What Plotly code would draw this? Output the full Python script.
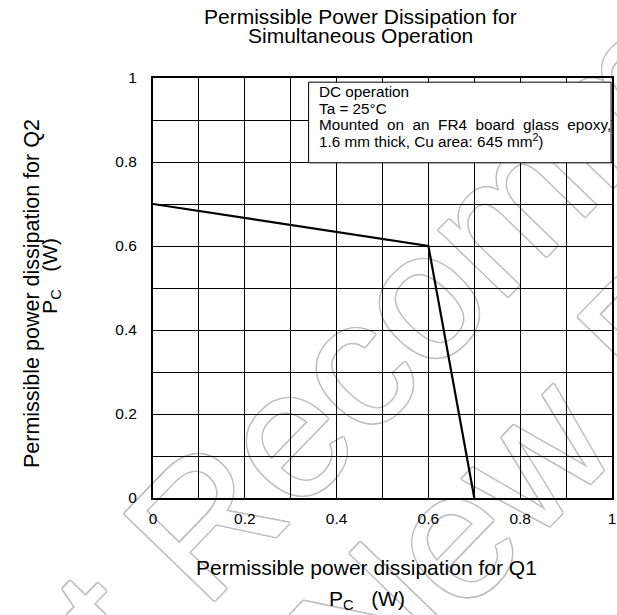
import plotly.graph_objects as go

# Derating boundary for the two transistors operating together
pc_q1 = [0.0, 0.6, 0.7]
pc_q2 = [0.7, 0.6, 0.0]

tick_vals = [0, 0.2, 0.4, 0.6, 0.8, 1]
tick_text = ["0", "0.2", "0.4", "0.6", "0.8", "1"]

conditions = [
    "DC operation",
    "Ta = 25°C",
    "Mounted\u00a0 on\u00a0 an\u00a0 FR4\u00a0 board\u00a0 glass\u00a0 epoxy,",
    "1.6 mm thick, Cu area: 645 mm<sup>2</sup>)",
]

FONT = "Arial, Liberation Sans, sans-serif"
W, H = 617, 615
L, R, T, B = 153, 1, 78, 117
PW, PH = W - L - R, H - T - B


def px(x):
    return (x - L) / PW


def py(y):
    return (H - B - y) / PH


fig = go.Figure()
fig.add_trace(go.Scatter(
    x=pc_q1, y=pc_q2, mode="lines",
    line=dict(color="black", width=2.2),
    showlegend=False, hoverinfo="skip",
))

axis_common = dict(
    range=[0, 1], tickmode="array", tickvals=tick_vals, ticktext=tick_text,
    showgrid=True, gridcolor="black", gridwidth=1,
    minor=dict(dtick=0.1, tick0=0, showgrid=True, gridcolor="black", gridwidth=1),
    showline=True, mirror=True, linecolor="black", linewidth=2,
    zeroline=False, ticks="", tickfont=dict(family=FONT, size=15.5, color="black"),
    ticklabeloverflow="allow", fixedrange=True,
)
fig.update_xaxes(**axis_common, ticklabelstandoff=5)
fig.update_yaxes(**axis_common, ticklabelstandoff=11)

# Conditions box
fig.add_shape(type="rect", xref="x", yref="y", x0=0.339, x1=0.998, y0=0.798, y1=0.990,
              fillcolor="white", line=dict(color="black", width=1), layer="between")
for i, txt in enumerate(conditions):
    fig.add_annotation(xref="paper", yref="paper", x=px(318.5), y=py(91.7 + 16.4 * i),
                       text=txt, showarrow=False, xanchor="left", yanchor="middle",
                       font=dict(family=FONT, size=15.3, color="black"))

# Watermark lettering (outlined, behind the grid)
outline = "#bdbdbd"
shadow = ", ".join(f"{dx}px {dy}px 0 {outline}" for dx, dy in
                   [(1.5, 0), (-1.5, 0), (0, 1.5), (0, -1.5), (1, 1), (-1, -1), (1, -1), (-1, 1)])
for txt, (cx, cy) in [("Not Recommended", (462, 232)), ("for New Design", (565, 399))]:
    fig.add_shape(type="line", xref="paper", yref="paper",
                  x0=px(cx) - 0.005, x1=px(cx) + 0.005, y0=py(cy) + 0.005, y1=py(cy) - 0.005,
                  line=dict(color="rgba(0,0,0,0)", width=0), layer="below",
                  label=dict(text=txt, textangle=-46, textposition="middle",
                             xanchor="center", yanchor="middle",
                             font=dict(family=FONT, size=182, color="white", shadow=shadow)))

# Titles
title_lines = ["Permissible Power Dissipation for", "Simultaneous Operation"]
for txt, y in zip(title_lines, [16, 36]):
    fig.add_annotation(xref="paper", yref="paper", x=px(362.5), y=py(y), text=txt,
                       showarrow=False, xanchor="center", yanchor="middle",
                       font=dict(family=FONT, size=21, color="black"))

fig.add_annotation(xref="paper", yref="paper", x=px(368.3), y=py(567.3),
                   text="Permissible power dissipation for Q1", showarrow=False,
                   xanchor="center", yanchor="middle", font=dict(family=FONT, size=21, color="black"))
fig.add_annotation(xref="paper", yref="paper", x=px(369), y=py(600),
                   text="P<sub>C</sub>\u00a0\u00a0\u00a0(W)", showarrow=False,
                   xanchor="center", yanchor="middle", font=dict(family=FONT, size=21, color="black"))
fig.add_annotation(xref="paper", yref="paper", x=px(31), y=py(294),
                   text="Permissible power dissipation for Q2", showarrow=False, textangle=-90,
                   xanchor="center", yanchor="middle", font=dict(family=FONT, size=21.5, color="black"))
fig.add_annotation(xref="paper", yref="paper", x=px(50), y=py(276),
                   text="P<sub>C</sub>\u00a0\u00a0\u00a0(W)", showarrow=False, textangle=-90,
                   xanchor="center", yanchor="middle", font=dict(family=FONT, size=21, color="black"))

fig.update_layout(
    width=W, height=H,
    margin=dict(l=L, r=R, t=T, b=B),
    paper_bgcolor="white", plot_bgcolor="white",
    showlegend=False,
)

fig.write_html("out.html", config={"displayModeBar": False})
